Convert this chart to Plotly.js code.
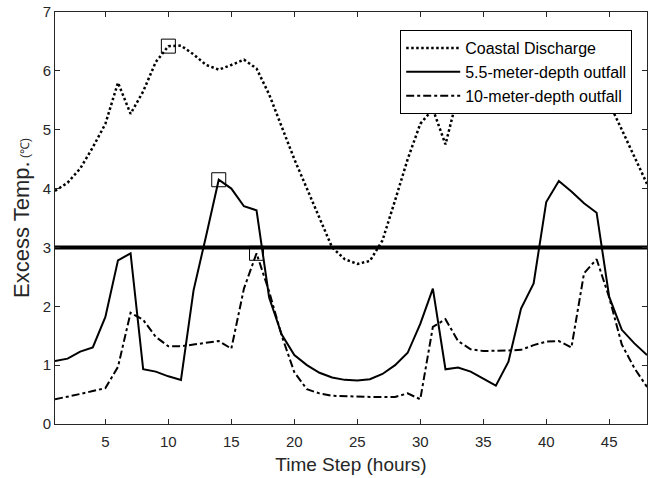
<!DOCTYPE html>
<html>
<head>
<meta charset="utf-8">
<script src="https://cdn.plot.ly/plotly-3.0.1.min.js"></script>
<style>
  html, body { margin: 0; padding: 0; background: #fff; }
  #chart { width: 648px; height: 478px; }
</style>
</head>
<body>
<div id="chart"></div>
<script>
// Hourly time steps
const hours = Array.from({length: 48}, (_, i) => i + 1);

// Excess temperature (°C) for each discharge option
const coastalDischarge = [
  3.96, 4.10, 4.34, 4.70, 5.10, 5.80, 5.27, 5.65, 6.15, 6.42,
  6.43, 6.28, 6.10, 6.02, 6.10, 6.19, 6.04, 5.60, 5.05, 4.50,
  4.00, 3.50, 3.00, 2.80, 2.72, 2.77, 3.12, 3.80, 4.50, 5.10,
  5.35, 4.75, 5.60, 6.10, 6.40, 6.42, 6.30, 6.10, 6.02, 6.08,
  6.18, 6.05, 5.85, 5.65, 5.45, 5.00, 4.55, 4.08
];
const outfall55m = [
  1.07, 1.11, 1.23, 1.30, 1.82, 2.78, 2.90, 0.93, 0.89, 0.81,
  0.75, 2.27, 3.20, 4.15, 4.00, 3.70, 3.63, 2.15, 1.52, 1.17,
  1.00, 0.87, 0.79, 0.75, 0.74, 0.76, 0.85, 1.00, 1.21, 1.70,
  2.30, 0.93, 0.96, 0.89, 0.77, 0.65, 1.06, 1.96, 2.39, 3.77,
  4.13, 3.95, 3.75, 3.59, 2.16, 1.60, 1.37, 1.17
];
const outfall10m = [
  0.42, 0.46, 0.51, 0.56, 0.61, 0.97, 1.89, 1.77, 1.48, 1.32,
  1.32, 1.35, 1.38, 1.41, 1.28, 2.30, 2.90, 2.25, 1.50, 0.88,
  0.59, 0.52, 0.48, 0.47, 0.46, 0.46, 0.46, 0.46, 0.52, 0.42,
  1.65, 1.78, 1.41, 1.27, 1.24, 1.24, 1.25, 1.26, 1.34, 1.40,
  1.41, 1.30, 2.56, 2.80, 2.15, 1.35, 0.95, 0.63
];

// Regulatory threshold
const thresholdTemp = 3;

// Highlighted hours (one per series)
const markedHours = [10, 14, 17];
const markedValues = [
  coastalDischarge[markedHours[0] - 1],
  outfall55m[markedHours[1] - 1],
  outfall10m[markedHours[2] - 1]
];

const xTicks = [5, 10, 15, 20, 25, 30, 35, 40, 45];
const yTicks = [0, 1, 2, 3, 4, 5, 6, 7];

const ink = '#262626';
const fontFamily = 'Arial, "Liberation Sans", Helvetica, sans-serif';

const traces = [
  {
    x: [hours[0], hours[hours.length - 1]],
    y: [thresholdTemp, thresholdTemp],
    mode: 'lines',
    line: {color: '#000', width: 4},
    showlegend: false,
    hoverinfo: 'skip'
  },
  {
    x: hours, y: coastalDischarge,
    name: 'Coastal Discharge',
    mode: 'lines',
    line: {color: '#000', width: 2.5, dash: '2.5px,2.5px'}
  },
  {
    x: hours, y: outfall55m,
    name: '5.5-meter-depth outfall',
    mode: 'lines',
    line: {color: '#000', width: 2}
  },
  {
    x: hours, y: outfall10m,
    name: '10-meter-depth outfall',
    mode: 'lines',
    line: {color: '#000', width: 2, dash: '8px,3px,3px,3px'}
  },
  {
    x: markedHours, y: markedValues,
    mode: 'markers',
    marker: {symbol: 'square-open', size: 14, color: '#000', line: {width: 1}},
    showlegend: false,
    hoverinfo: 'skip'
  }
];

const layout = {
  width: 648,
  height: 478,
  margin: {l: 55, r: 1, t: 12, b: 54},
  paper_bgcolor: '#fff',
  plot_bgcolor: '#fff',
  font: {family: fontFamily, color: ink, size: 15},
  showlegend: true,
  legend: {
    x: 0.975, xanchor: 'right',
    y: 0.956, yanchor: 'top',
    bgcolor: '#fff',
    bordercolor: '#000',
    borderwidth: 1,
    font: {family: fontFamily, size: 16, color: '#000'},
    itemwidth: 54,
    tracegroupgap: 0
  },
  xaxis: {
    range: [1, 48],
    tickvals: xTicks,
    ticks: 'inside', ticklen: 5, tickcolor: ink,
    showline: true, linecolor: ink, linewidth: 1, mirror: 'ticks',
    showgrid: false, zeroline: false,
    tickfont: {size: 15, color: ink},
    ticklabelstandoff: 4,
    title: {text: 'Time Step (hours)', font: {size: 19, color: ink}, standoff: 8}
  },
  yaxis: {
    range: [0, 7],
    tickvals: yTicks,
    ticks: 'inside', ticklen: 5, tickcolor: ink,
    showline: true, linecolor: ink, linewidth: 1, mirror: 'ticks',
    showgrid: false, zeroline: false,
    tickfont: {size: 15, color: ink},
    title: {
      text: 'Excess Temp.<span style="font-size:12px"> (℃)</span>',
      font: {size: 22, color: ink},
      standoff: 6
    }
  }
};

Plotly.newPlot('chart', traces, layout, {displayModeBar: false, staticPlot: true});
</script>
</body>
</html>
